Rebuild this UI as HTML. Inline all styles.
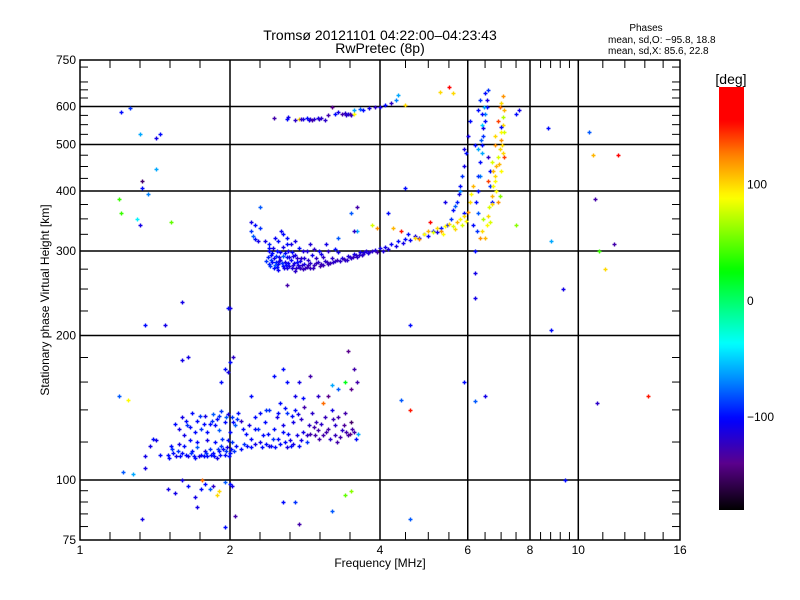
<!DOCTYPE html>
<html><head><meta charset="utf-8"><style>
body{margin:0;background:#fff;}
svg{display:block;font-family:"Liberation Sans","DejaVu Sans",sans-serif;}
</style></head><body>
<svg id="chart" width="800" height="600" viewBox="0 0 800 600">
<rect width="800" height="600" fill="#fff"/>
<g id="grid"></g>
<g id="ticks"></g>
<g id="pts"></g>
<rect x="80" y="60" width="600" height="480" fill="none" stroke="#000" stroke-width="1.5"/>
<g id="labels" font-size="12" fill="#000"></g>
<text x="380" y="40" text-anchor="middle" font-size="14">Tromsø 20121101 04:22:00–04:23:43</text>
<text x="380" y="53" text-anchor="middle" font-size="14">RwPretec (8p)</text>
<text x="646" y="31" text-anchor="middle" font-size="10">Phases</text>
<text x="608" y="43" font-size="10">mean, sd,O: −95.8, 18.8</text>
<text x="608" y="54" font-size="10">mean, sd,X:  85.6, 22.8</text>
<text x="380" y="567" text-anchor="middle" font-size="12">Frequency [MHz]</text>
<text transform="translate(49,300) rotate(-90)" text-anchor="middle" font-size="12">Stationary phase Virtual Height [km]</text>
<defs><linearGradient id="cb" x1="0" y1="1" x2="0" y2="0"></linearGradient></defs>
<rect x="719" y="87" width="25" height="423" fill="url(#cb)"/>
<text x="731" y="84" text-anchor="middle" font-size="14">[deg]</text>
<g id="cblabels" font-size="12"></g>
</svg>
<script>
const xTickVals=[1,2,4,6,8,10,16];
const yTickVals=[75,100,200,300,400,500,600,750];
const xGridVals=[2,4,6,8,10];
const yGridVals=[100,200,300,400,500,600];
const cbTickVals=[100,0,-100];
// [freq MHz, height km, phase deg]
const fTraceO=[[2.2,330,-90],[2.22,322,-80],[2.25,318,-100],[2.28,315,-110],[2.2,345,-110],[2.25,340,-100],[2.3,335,-90],
[2.4,300,-105],[2.42,295,-100],[2.45,290,-110],[2.47,285,-95],[2.5,282,-105],[2.52,288,-110],[2.55,279,-100],[2.58,284,-110],[2.6,292,-100],[2.4,310,-95],[2.44,305,-110],[2.48,300,-100],[2.52,298,-105],[2.56,306,-110],[2.6,310,-100],[2.46,320,-105],[2.5,315,-100],[2.55,325,-100],[2.53,330,-105],[2.62,300,-110],[2.65,288,-105],[2.68,280,-115],[2.7,295,-110],[2.72,284,-100],[2.75,278,-110],[2.78,290,-120],[2.8,300,-115],[2.82,282,-110],[2.85,278,-125],[2.9,283,-120],[2.92,295,-110],[2.95,280,-125],[3.0,284,-120],[3.02,300,-105],[3.05,282,-125],[3.1,286,-120],[3.15,282,-125],[3.2,290,-120],[3.25,286,-120],[3.3,298,-110],[3.35,290,-115],[3.4,287,-120],[3.45,293,-115],[3.5,290,-120],[3.55,296,-110],[3.6,292,-120],[3.65,298,-110],[3.7,296,-120],[3.75,300,-115],[3.8,298,-120],[3.9,302,-115],[3.95,298,-130],[4.0,304,-110],[4.05,300,-115],[4.1,306,-110],[4.15,303,-115],[4.2,310,-105],[4.3,308,-110],[4.35,315,-100],[4.45,312,-110],[4.5,318,-100],[4.6,316,-105],[4.7,322,-110],[4.8,320,-100],[4.9,326,-95],[5.0,322,-105],[5.1,330,-100],[5.2,328,-110],[5.3,335,-95],[5.45,340,-100],[5.55,350,-90],[5.6,365,-100],[5.7,380,-95],[5.75,395,-110],[5.8,410,-100],[5.85,430,-90],[5.9,450,-110],[5.95,480,-100],[6.0,520,-110],[5.65,372,-80],[5.78,400,-70],[5.9,360,-100],[6.05,560,-100],
[2.65,310,-110],[2.75,305,-100],[2.85,300,-115],[2.95,303,-120],[3.05,296,-110],[3.15,300,-120],[3.25,303,-100],[2.7,315,-110],[2.6,320,-100],[2.9,310,-115],
[2.4,282,-95],[2.45,276,-100],[2.5,274,-105],[2.6,276,-110],[2.7,272,-120],[2.8,275,-125],[2.9,276,-125],[2.42,288,-90],[2.56,293,-80],[2.66,298,-100],[3.6,330,-60],[3.3,320,-80],[3.12,310,-110]];
const fTraceDense=[[2.41,279,-90],[2.43,284,-100],[2.46,281,-80],[2.49,278,-100],[2.51,286,-110],[2.54,283,-90],[2.57,277,-110],[2.59,280,-100],[2.61,283,-105],[2.63,279,-110],[2.66,276,-115],[2.69,283,-110],[2.71,277,-120],[2.74,281,-115],[2.77,276,-125],[2.79,280,-120],[2.83,276,-125],[2.87,280,-125],[2.93,277,-125],[2.97,283,-125],[3.03,279,-130],[3.08,280,-125],[3.13,285,-125],[3.18,283,-125],[3.22,285,-120],[3.28,288,-125],[3.32,286,-120],[3.38,289,-125],[3.43,288,-120],[3.48,292,-120],[3.53,291,-125],[3.58,294,-120],[3.63,294,-120],[3.68,295,-120],[3.72,298,-115],[3.78,297,-115],[3.85,300,-120],[2.43,297,-100],[2.47,293,-90],[2.51,291,-110],[2.58,297,-100],[2.63,291,-110],[2.67,293,-110],[2.73,290,-120],[2.77,286,-110],[2.81,290,-115],[2.87,288,-120],[2.97,290,-120],[3.07,292,-120],[2.38,292,-95],[2.36,286,-90],[2.39,304,-100],[2.35,315,-110]];
const cuspO=[[6.2,300,-100],[6.25,330,-90],[6.3,360,-80],[6.3,400,-100],[6.35,430,-70],[6.35,460,-100],[6.4,480,-60],[6.4,500,-100],[6.45,520,-90],[6.45,540,-110],[6.5,560,-100],[6.5,580,-70],[6.55,600,-100],[6.55,620,-110],[6.5,640,-100],[6.6,650,-90],[6.6,470,-120],[6.65,440,-100],[6.65,410,-90],[6.7,380,-100],[6.3,490,-60],[6.4,550,-50],[6.2,270,-110],[6.15,340,-100],[6.3,590,-100],[6.35,620,-90],[6.28,430,-90],[6.38,510,-80],[6.42,580,-100],[6.48,600,-60],[6.22,380,-100]];
const cuspX=[[6.5,320,110],[6.55,340,90],[6.6,355,100],[6.62,370,80],[6.7,390,110],[6.75,410,90],[6.8,430,100],[6.85,450,110],[6.9,470,80],[6.95,490,100],[7.0,510,120],[7.0,530,90],[7.05,550,100],[7.05,570,70],[7.1,590,110],[7.0,610,100],[7.05,630,120],[6.9,560,140],[6.95,600,130],[6.8,500,120],[6.7,460,80],[6.6,420,140],[6.9,380,120],[7.0,440,90],[6.4,330,100],[6.45,350,70],[6.35,320,120],[6.8,520,100],[7.1,470,140],[6.98,390,60],[6.85,400,90],[6.75,440,110],[7.05,480,100],[6.65,345,80],[6.72,375,100],[6.82,420,90],[6.92,455,110],[7.02,500,100],[7.08,530,80]];
const traceX=[[4.7,320,100],[4.8,318,120],[4.9,325,90],[5.0,330,110],[5.1,328,80],[5.2,335,100],[5.3,330,120],[5.4,338,90],[5.5,342,100],[5.6,338,80],[5.7,345,110],[5.8,350,90],[5.9,355,100],[6.0,362,120],[6.05,380,100],[6.1,395,90],[6.15,410,110],[4.55,325,-100],[4.4,330,150],[4.25,335,110],[3.85,340,80],[3.95,335,120],[3.55,330,-120],[5.05,345,170],[5.28,643,100],[5.5,660,160],[5.35,326,90],[5.65,333,100],[5.85,340,80],[5.95,346,90]];
const upperTrace=[[2.45,568,-130],[2.6,565,-100],[2.62,570,-110],[2.7,562,-120],[2.8,565,-110],[2.85,568,-100],[2.9,566,-120],[2.95,565,-115],[3.0,568,-110],[3.05,567,-120],[3.15,575,-130],[3.25,580,-100],[3.3,585,-110],[3.35,578,-130],[3.4,582,-120],[3.45,580,-110],[3.5,575,-120],[3.55,590,-60],[3.65,592,-80],[3.7,590,-100],[3.8,595,-110],[3.9,598,-120],[4.0,600,-110],[4.1,605,-100],[3.2,600,-140],[2.75,565,100],[3.55,580,90],[3.1,562,-120],[4.3,620,-70],[4.35,635,-60],[4.2,610,-120],[4.5,605,100],[2.88,562,-110],[3.42,576,-120],[2.78,564,-120],[2.92,563,-130],[3.02,565,-120],[3.48,578,-130]];
const eLayer=[[1.5,113,-100],[1.53,116,-90],[1.56,112,-110],[1.6,114,-100],[1.62,118,-100],[1.65,112,-110],[1.68,115,-100],[1.7,111,-100],[1.72,117,-80],[1.75,113,-100],[1.78,115,-110],[1.8,112,-100],[1.82,116,-90],[1.85,114,-100],[1.88,111,-110],[1.9,115,-100],[1.92,118,-90],[1.95,113,-100],[1.97,117,-110],[2.0,114,-100],[2.02,120,-90],[1.98,121,-100],[1.93,122,-90],[1.87,120,-100],[1.8,121,-110],[1.72,120,-100],[1.66,121,-100],[1.58,119,-110],[1.52,118,-100],
[1.55,131,-100],[1.6,135,-110],[1.64,130,-90],[1.68,138,-100],[1.72,133,-100],[1.75,128,-90],[1.78,136,-110],[1.82,131,-100],[1.85,137,-80],[1.88,134,-100],[1.92,139,-90],[1.95,132,-100],[1.98,137,-110],[2.02,135,-90],[2.05,130,-80],[2.08,138,-100],[2.1,133,-120],[1.7,126,-100],[1.62,124,-110],[1.8,126,-100],[1.9,127,-80],[2.0,126,-100],[1.58,128,-110],
[1.35,112,-110],[1.38,118,-110],[1.4,122,-100],[1.42,121,-110],[1.45,113,-100],[1.35,106,-110],
[1.95,170,-100],[2.0,176,-100],[1.98,168,-110],[2.03,180,-120],[1.92,160,-100],[1.6,178,-110],
[1.6,100,-110],[1.65,97,-100],[1.7,92,-110],[1.75,96,-100],[1.78,98,-100],[1.85,97,-120],[1.9,95,100],[1.95,99,-80],[2.0,98,-100],[2.02,97,-110],[1.88,93,100],[1.82,96,-80],[1.76,100,130],[1.55,94,-110],[1.72,88,-110],[1.5,96,-110],
[2.15,125,-100],[2.18,130,-110],[2.2,122,-100],[2.25,135,-100],[2.28,128,-90],[2.3,120,-110],[2.35,132,-100],[2.38,125,-100],[2.4,140,-90],[2.42,118,-100],[2.45,128,-100],[2.48,135,-110],[2.5,122,-100],[2.52,145,-100],[2.55,130,-110],[2.58,120,-100],[2.6,138,-90],[2.62,125,-100],[2.65,118,-100],[2.68,132,-110],[2.7,140,-100],[2.72,124,-110],[2.75,118,-100],[2.78,134,-120],[2.8,126,-110],[2.82,142,-130],[2.85,120,-90],[2.88,130,-120],[2.9,125,-130],[2.92,138,-120],[2.95,129,-130],[2.98,132,-125],[3.0,127,-130],[3.05,131,-120],[3.08,124,-130],[3.1,135,-125],[3.15,128,-130],[3.18,122,-120],[3.2,140,-110],[3.25,130,-120],[3.28,120,-130],[3.3,135,-130],[3.35,127,-120],[3.4,138,-130],[3.45,124,-130],[3.5,132,-150],[3.52,128,-130],[3.58,122,-100],[3.62,125,-60],[3.6,160,-130],[3.55,170,-130],[3.5,155,-140],[3.3,155,-80],[3.2,158,-60],[3.15,150,-140],[3.4,160,20],[3.08,145,130],[2.6,160,-100],[2.55,170,-100],[2.7,150,-110],[2.8,148,-100],[2.45,165,-100],[3.45,186,-140],[3.0,150,-120],[2.9,165,-130],[2.75,160,-110],[2.2,150,-100],
[2.25,128,-100],[2.33,124,-100],[2.44,122,-90],[2.56,126,-100],[2.64,121,-110],[3.12,126,-130],[3.22,134,-125],[3.38,130,-135]];
const eLayerDense=[[1.51,111,-100],[1.54,114,-100],[1.57,115,-90],[1.59,112,-100],[1.63,113,-100],[1.67,114,-90],[1.69,112,-100],[1.73,112,-110],[1.77,112,-100],[1.79,114,-90],[1.83,113,-100],[1.86,112,-100],[1.89,116,-90],[1.91,113,-100],[1.94,116,-100],[1.96,115,-90],[1.99,112,-100],[2.01,116,-100],[2.04,115,-90],[2.06,118,-100],[2.1,116,-100],[2.13,119,-90],[2.16,118,-100],[2.2,117,-100],[2.24,119,-110],[1.63,133,-100],[1.66,129,-100],[1.74,136,-90],[1.77,131,-100],[1.84,133,-90],[1.87,130,-100],[1.9,136,-90],[1.96,135,-80],[2.03,132,-100],[2.07,134,-90],[2.12,128,-100],[2.32,117,-100],[2.36,119,-100],[2.4,118,-110],[2.46,117,-100],[2.52,119,-100],[2.6,117,-110],[2.68,119,-110],[2.78,121,-110],[2.86,124,-120],[2.96,124,-130],[3.02,122,-130],[3.25,124,-125],[3.32,123,-130],[3.42,126,-130],[3.48,125,-140],[3.55,126,-130],[2.3,138,-100],[2.36,140,-90],[2.5,138,-100],[2.58,141,-100],[2.66,136,-100],[2.74,137,-110]];
const scattered=[[1.21,585,-100],[1.26,595,-90],[1.32,525,-60],[1.45,525,-100],[1.42,515,-110],[1.33,420,-150],[1.33,405,-100],[1.37,395,-70],[1.42,445,-60],[1.3,350,-40],[1.2,385,40],[1.21,360,40],[1.32,340,-110],[1.52,345,50],[1.35,210,-100],[1.48,210,-110],[1.6,235,-110],[1.98,228,-100],[2.0,228,-110],[2.6,255,-130],[1.65,180,-110],[1.2,150,-80],[1.25,147,90],[1.28,103,-60],[1.22,104,-80],[1.33,83,-110],[1.95,80,-100],[2.75,81,-130],[3.2,86,-80],[2.55,90,-100],[2.7,90,-90],[3.4,93,50],[3.5,95,60],[2.05,84,-130],[4.6,83,-80],[4.4,147,-80],[4.6,140,150],[5.9,160,-100],[6.2,146,-80],[6.5,150,-110],[4.6,210,-100],[6.2,240,-110],[7.5,340,60],[8.8,315,-60],[8.8,205,-100],[9.3,250,-110],[10.5,530,-80],[10.7,475,110],[12,475,160],[10.8,385,-130],[11,300,40],[11.3,275,100],[11.8,310,-130],[13.8,150,150],[10.9,145,-120],[9.4,100,-100],[8.7,540,-100],[2.3,370,-80],[3.5,360,-80],[4.15,360,-100],[3.6,370,-130],[4.5,405,-100],[5.4,380,-110],[5.9,490,-110],[6.2,500,-100],[7.0,545,-100],[7.6,590,-110],[7.5,580,-100],[5.6,640,100]];

const NS="http://www.w3.org/2000/svg";
const X0=80,X1=680,Y0=540,Y1=60;
function xs(f){return X0+(X1-X0)*Math.log2(f)/4;}
function ys(h){return Y0-(Y0-Y1)*Math.log10(h/75)/1;}
const stops=[[-180,0,0,0],[-140,90,0,140],[-102,0,0,255],[-70,0,130,255],[-37,0,255,255],[26,0,255,0],[89,255,255,0],[125,255,130,0],[155,255,0,0],[184,255,0,0]];
function col(p){
  if(p<=stops[0][0])return "rgb(0,0,0)";
  for(let i=1;i<stops.length;i++){
    if(p<=stops[i][0]){const a=stops[i-1],b=stops[i],t=(p-a[0])/(b[0]-a[0]);
      return "rgb("+[1,2,3].map(k=>Math.round(a[k]+(b[k]-a[k])*t)).join(",")+")";}
  }
  return "rgb(255,0,0)";
}
function mk(tag,attrs,parent){const e=document.createElementNS(NS,tag);for(const k in attrs)e.setAttribute(k,attrs[k]);parent.appendChild(e);return e;}
const grid=document.getElementById('grid');
xGridVals.forEach(v=>{const l=mk('line',{x1:xs(v),x2:xs(v),y1:Y1,y2:Y0,stroke:'#000','stroke-width':1.5},grid);

});
yGridVals.forEach(v=>{const l=mk('line',{x1:X0,x2:X1,y1:ys(v),y2:ys(v),stroke:'#000','stroke-width':1.5},grid);

});
const ticks=document.getElementById('ticks');
let xm=[];for(let i=1;i<10;i++)if(i%5)xm.push(X0+i*30);
[4.5,5,5.5,6.5,7,7.5,8.4,8.8,9.2,9.6,11.2,12.4,13.6,14.8].forEach(v=>xm.push(xs(v)));
[2,4,6,8,10].forEach(v=>xm.push(xs(v)));
xm.forEach(x=>{[[Y0,Y0-8],[Y1,Y1+8]].forEach(p=>{const l=mk('line',{x1:x,x2:x,y1:p[0],y2:p[1],stroke:'#000','stroke-width':1},ticks);

});});
let ym=[80,85,90,95,120,140,160,180];for(let v=225;v<750;v+=25)if(v%100)ym.push(v);
ym.forEach(v=>{[[X0,X0+8],[X1,X1-8]].forEach(p=>{const l=mk('line',{x1:p[0],x2:p[1],y1:ys(v),y2:ys(v),stroke:'#000','stroke-width':1},ticks);

});});
const lab=document.getElementById('labels');
xTickVals.forEach(v=>{const t=mk('text',{x:xs(v),y:554,'text-anchor':'middle'},lab);t.textContent=v;

});
yTickVals.forEach(v=>{const t=mk('text',{x:76,y:ys(v)+4,'text-anchor':'end'},lab);t.textContent=v;

});
const g=document.getElementById('cb');
for(let p=-180;p<=184;p+=4){const o=(p+180)/364;mk('stop',{offset:o,'stop-color':col(p)},g);}
function cby(p){return 510-(p+180)/364*423;}
const cbl=document.getElementById('cblabels');
cbTickVals.forEach(v=>{const t=mk('text',{x:747,y:cby(v)+4},cbl);t.textContent=(v<0?'−':'')+Math.abs(v);

});
const pg=document.getElementById('pts');
[fTraceO,fTraceDense,cuspO,cuspX,traceX,upperTrace,eLayer,eLayerDense,scattered].forEach(arr=>arr.forEach(d=>{
  const x=Math.round(xs(d[0]))+0.5,y=Math.round(ys(d[1]))+0.5;
  const e=mk('path',{d:`M${x-2} ${y}h4M${x} ${y-2}v4`,stroke:col(d[2]),'stroke-width':1.4},pg);
  
  
}));
</script>
</body></html>
